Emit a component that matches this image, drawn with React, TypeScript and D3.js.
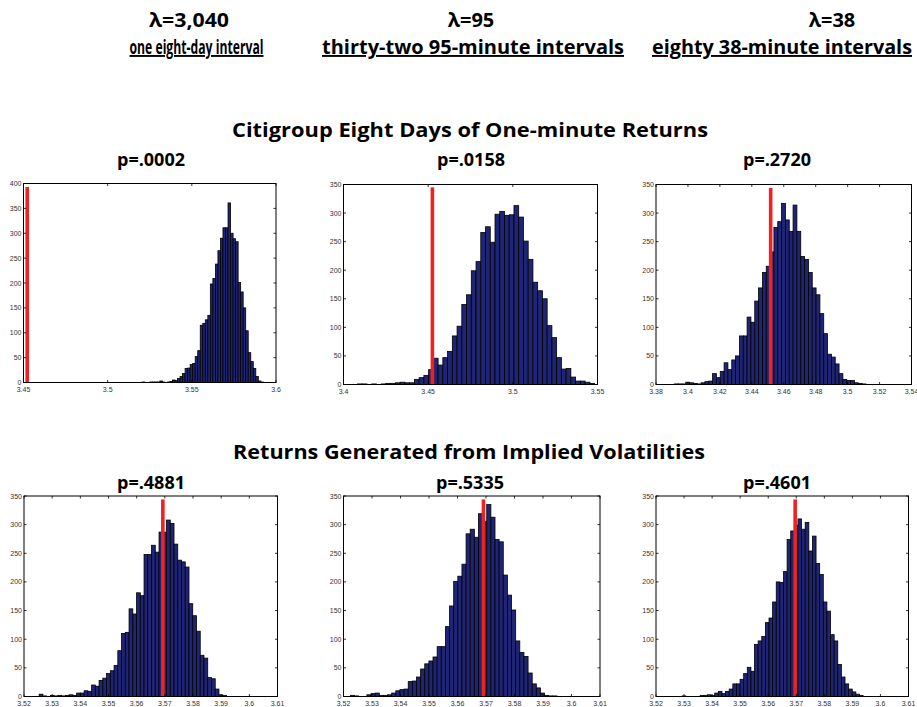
import React from 'react';
import * as d3 from 'd3';

const HEADER_LAMBDAS = ['λ=3,040', 'λ=95', 'λ=38'];
const HEADER_INTERVALS = ['one eight-day interval', 'thirty-two 95-minute intervals', 'eighty 38-minute intervals'];
const ROW_TITLES = ['Citigroup Eight Days of One-minute Returns', 'Returns Generated from Implied Volatilities'];
const P_VALUES = ['p=.0002', 'p=.0158', 'p=.2720', 'p=.4881', 'p=.5335', 'p=.4601'];

const X_DOMAINS = [[3.45, 3.6], [3.4, 3.55], [3.38, 3.54], [3.52, 3.61], [3.52, 3.61], [3.52, 3.61]];
const Y_MAX = [400, 350, 350, 350, 350, 350];
const X_TICKS = [
  [3.45, 3.5, 3.55, 3.6],
  [3.4, 3.45, 3.5, 3.55],
  [3.38, 3.4, 3.42, 3.44, 3.46, 3.48, 3.5, 3.52, 3.54],
  [3.52, 3.53, 3.54, 3.55, 3.56, 3.57, 3.58, 3.59, 3.6, 3.61],
  [3.52, 3.53, 3.54, 3.55, 3.56, 3.57, 3.58, 3.59, 3.6, 3.61],
  [3.52, 3.53, 3.54, 3.55, 3.56, 3.57, 3.58, 3.59, 3.6, 3.61],
];
const BIN_START = [3.5205, 3.40827, 3.39144, 3.52538, 3.52241, 3.52932];
const BIN_WIDTH = [0.0015, 0.0028, 0.0024, 0.00133, 0.00145, 0.00129];
const RED_LINE = [3.4522, 3.4525, 3.4518, 3.5693, 3.5691, 3.5696];
const RED_TOP = [393, 345, 344, 344, 344, 344];

const COUNTS_1 = [1, 0, 0, 1, 1, 1, 1, 3, 1, 0,
  1, 2, 5, 4, 8, 12, 18, 28, 29, 36, 38, 52, 64, 115, 119, 126, 135, 198, 209, 238, 265, 290, 311, 311,
  361, 300, 289, 283, 201, 182, 150, 104, 60, 42, 28, 12, 3, 1, 0, 0];
const COUNTS_2 = [1, 1, 0, 1, 0, 1, 2, 2, 3, 4, 3, 3, 9, 12, 16, 26,
  46, 34, 47, 58, 85, 102, 140, 157, 199, 215, 266, 276, 249, 298, 303, 296, 297, 313, 293, 251, 219, 179, 164, 150,
  103, 82, 47, 27, 28, 13, 6, 6, 4, 2];
const COUNTS_3 = [1, 1, 1, 4, 3, 2, 1, 3,
  5, 6, 19, 12, 23, 38, 26, 43, 50, 85, 85, 118, 109, 146, 169, 196, 207, 232, 275, 285, 317, 288, 268, 314, 268,
  224, 219, 196, 169, 157, 124, 89, 53, 48, 36, 19, 9, 7, 7, 3, 2, 1];
const COUNTS_4 = [4, 1, 0, 2, 1, 2, 1, 2, 3, 2, 6, 6, 10, 9, 20, 18, 28, 32, 40, 45, 54, 80, 110, 112, 153, 144, 181,
  176, 248, 248, 264, 252, 287, 287, 308, 302, 266, 238, 235, 226, 162, 141, 114, 72, 67, 33, 31, 13, 3, 2];
const COUNTS_5 = [2, 1, 0, 0, 3, 5, 6, 2, 2, 3, 6, 10, 12, 13, 26, 27, 34, 48, 57, 62, 69, 87, 87, 122, 158, 201, 210,
  231, 284, 292, 278, 319, 306, 335, 313, 274, 270, 212, 177, 151, 97, 77, 70, 41, 22, 15, 6, 2, 1, 1];
const COUNTS_6 = [1, 0, 0, 0, 0, 2, 2, 3, 2, 6, 9, 5, 9, 13, 22, 22, 30, 40, 51, 44, 91, 97, 105, 129, 137, 165, 200,
  199, 218, 274, 289, 299, 310, 292, 304, 254, 280, 232, 213, 165, 149, 108, 97, 56, 34, 22, 13, 8, 4, 2];
const ALL_COUNTS = [COUNTS_1, COUNTS_2, COUNTS_3, COUNTS_4, COUNTS_5, COUNTS_6];

// panel frames [left, right, top, bottom]
const FRAMES = [
  [23.5, 276, 183.5, 382.5],
  [343.5, 597.5, 184.5, 384.5],
  [656, 911.5, 184.5, 384.5],
  [24, 277.5, 496, 696.5],
  [343.5, 600, 496, 696.5],
  [656, 908.5, 496, 696.5],
];

const fmt = (v: number) => String(+v.toFixed(2));
const TITLE_FONT = "'Open Sans', 'Noto Sans', sans-serif";
const TICK_FONT = "'Liberation Sans', Arial, sans-serif";

function Panel({ i }: { i: number }) {
  const [l, r, t, b] = FRAMES[i];
  const x = d3.scaleLinear().domain(X_DOMAINS[i]).range([l, r]);
  const y = d3.scaleLinear().domain([0, Y_MAX[i]]).range([b, t]);
  const counts = ALL_COUNTS[i];
  const yTicks = d3.range(0, Y_MAX[i] + 1, 50);
  const tl = 2.5;
  return (
    <g>
      <rect x={l} y={t} width={r - l} height={b - t} fill="#fff" />
      {counts.map((c, k) => {
        if (c <= 0) return null;
        const x0 = x(BIN_START[i] + k * BIN_WIDTH[i]);
        const x1 = x(BIN_START[i] + (k + 1) * BIN_WIDTH[i]);
        return (
          <rect key={k} x={x0} y={y(c)} width={x1 - x0} height={y(0) - y(c)}
            fill="#1f2474" stroke="#000" strokeWidth={0.8} />
        );
      })}
      <rect x={x(RED_LINE[i]) - 1.8} y={y(RED_TOP[i])} width={3.6} height={y(0) - y(RED_TOP[i])} fill="#ee2222" />
      <rect x={l} y={t} width={r - l} height={b - t} fill="none" stroke="#000" strokeWidth={1} />
      {X_TICKS[i].map((v, k) => (
        <g key={'x' + k}>
          <line x1={x(v)} x2={x(v)} y1={b} y2={b - tl} stroke="#000" strokeWidth={0.8} />
          <line x1={x(v)} x2={x(v)} y1={t} y2={t + tl} stroke="#000" strokeWidth={0.8} />
          <text x={x(v)} y={b + 9.5} fontSize={7} fontFamily={TICK_FONT} fill="#333" textAnchor="middle">{fmt(v)}</text>
        </g>
      ))}
      {yTicks.map((v, k) => (
        <g key={'y' + k}>
          <line x1={l} x2={l + tl} y1={y(v)} y2={y(v)} stroke="#000" strokeWidth={0.8} />
          <line x1={r} x2={r - tl} y1={y(v)} y2={y(v)} stroke="#000" strokeWidth={0.8} />
          <text x={l - 2} y={y(v) + 2.5} fontSize={7} fontFamily={TICK_FONT} fill="#333" textAnchor="end">{v}</text>
        </g>
      ))}
    </g>
  );
}

const HEADER_X = [189, 471, 832];
const HEADER_LEN = [80, 0, 0];
const SUB_X = [196.5, 473, 782];
const SUB_LEN = [134, 0, 0];
const P_X = [151, 471, 777, 151, 470, 777];

export default function App() {
  return (
    <svg width={917} height={707} style={{ position: 'absolute', left: 0, top: 0, background: '#fff' }}
      fontFamily={TITLE_FONT}>
      <rect x={0} y={0} width={917} height={707} fill="#fff" />
      {HEADER_LAMBDAS.map((s, k) => (
        <text key={'l' + k} x={HEADER_X[k]} y={27} fontSize={20} fontWeight="bold" textAnchor="middle"
          {...(HEADER_LEN[k] ? { textLength: HEADER_LEN[k], lengthAdjust: 'spacingAndGlyphs' } : {})}>{s}</text>
      ))}
      {HEADER_INTERVALS.map((s, k) => (
        <text key={'s' + k} x={SUB_X[k]} y={54} fontSize={19} fontWeight="bold" textAnchor="middle"
          style={{ textDecoration: 'underline' }}
          {...(SUB_LEN[k] ? { textLength: SUB_LEN[k], lengthAdjust: 'spacingAndGlyphs' } : { textLength: k === 1 ? 302 : 260, lengthAdjust: 'spacingAndGlyphs' })}>{s}</text>
      ))}
      <text x={470} y={137} fontSize={20} fontWeight="bold" textAnchor="middle" textLength={476} lengthAdjust="spacingAndGlyphs">{ROW_TITLES[0]}</text>
      <text x={469} y={459} fontSize={20} fontWeight="bold" textAnchor="middle" textLength={472} lengthAdjust="spacingAndGlyphs">{ROW_TITLES[1]}</text>
      {P_VALUES.map((s, k) => (
        <text key={'p' + k} x={P_X[k]} y={k < 3 ? 166 : 489} fontSize={18} fontWeight="bold" textAnchor="middle">{s}</text>
      ))}
      {[0, 1, 2, 3, 4, 5].map((i) => <Panel key={i} i={i} />)}
    </svg>
  );
}
